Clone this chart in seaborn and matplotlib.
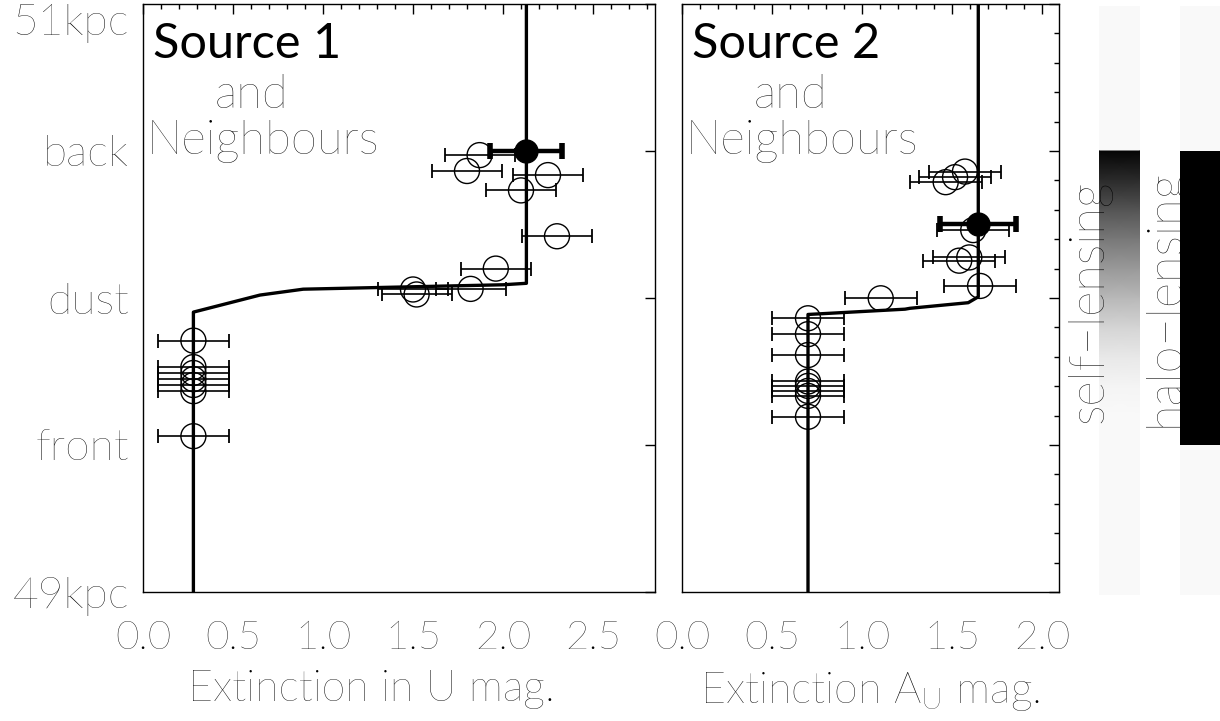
import numpy as np
import pandas as pd
import matplotlib
matplotlib.use("Agg")
import matplotlib.pyplot as plt
from matplotlib.ticker import MultipleLocator, FormatStrFormatter
from matplotlib.colors import LinearSegmentedColormap
import seaborn as sns

# Source 1: main object (filled) and neighbours (open circles)
s1_main_x = [2.13]
s1_main_y = [50.50]
s1_main_err = [0.20]
s1_nb_x = [1.87, 1.80, 2.25, 2.10, 2.30, 1.96, 1.82, 1.50, 1.52,
           0.28, 0.28, 0.28, 0.28, 0.28, 0.28, 0.28]
s1_nb_y = [50.486, 50.432, 50.418, 50.366, 50.21, 50.10, 50.031, 50.029, 50.012,
           49.855, 49.765, 49.745, 49.724, 49.704, 49.683, 49.53]
s1_nb_err = [0.195] * len(s1_nb_x)
s1_model_x = [2.13, 2.13, 2.00, 0.89, 0.65, 0.28, 0.28]
s1_model_y = [51.0, 50.05, 50.045, 50.03, 50.01, 49.952, 49.0]

# Source 2
s2_main_x = [1.646]
s2_main_y = [50.252]
s2_main_err = [0.21]
s2_nb_x = [1.572, 1.517, 1.465, 1.618, 1.596, 1.54, 1.656, 1.104,
           0.70, 0.70, 0.70, 0.70, 0.70, 0.70, 0.70, 0.70]
s2_nb_y = [50.430, 50.411, 50.394, 50.231, 50.138, 50.127, 50.041, 49.999,
           49.931, 49.877, 49.806, 49.716, 49.701, 49.684, 49.667, 49.596]
s2_nb_err = [0.2] * len(s2_nb_x)
s2_model_x = [1.646, 1.646, 1.59, 1.267, 1.239, 0.70, 0.70]
s2_model_y = [51.0, 50.004, 49.984, 49.965, 49.962, 49.944, 49.0]

# depth axis labels
depth_ticks = [49.0, 49.5, 50.0, 50.5, 51.0]
depth_labels = ["49kpc", "front", "dust", "back", "51kpc"]

# lensing strips
sl_depth = [50.5, 50.4, 50.3, 50.2, 50.1, 50.0, 49.9, 49.8, 49.7, 49.6]
sl_gray = [0.02, 0.17, 0.33, 0.47, 0.60, 0.72, 0.83, 0.91, 0.955, 0.976]
halo_range = [49.5, 50.5]

sns.set_theme(style="white")
plt.rcParams["font.family"] = ["Lato", "DejaVu Sans"]
plt.rcParams["font.weight"] = "light"
plt.rcParams["mathtext.fontset"] = "custom"
plt.rcParams["mathtext.rm"] = "Lato:light"
plt.rcParams["axes.edgecolor"] = "black"
plt.rcParams["axes.linewidth"] = 1.0
plt.rcParams["text.color"] = "black"
plt.rcParams["axes.labelcolor"] = "black"
plt.rcParams["xtick.color"] = "black"
plt.rcParams["ytick.color"] = "black"

W, H = 1220, 721
fig = plt.figure(figsize=(W / 100, H / 100), dpi=100)
top_px, bot_px = 4, 592
ax1 = fig.add_axes([143 / W, 1 - bot_px / H, 512 / W, (bot_px - top_px) / H])
ax2 = fig.add_axes([682 / W, 1 - bot_px / H, 377 / W, (bot_px - top_px) / H])
px_per_x = 180.0


def panel(ax, main_x, main_y, main_err, nb_x, nb_y, nb_err, mx, my, title, xlabel, xmax):
    nb = pd.DataFrame({"x": nb_x, "y": nb_y})
    ax.errorbar(nb_x, nb_y, xerr=nb_err, fmt="none", ecolor="black",
                elinewidth=1.2, capsize=4.8, capthick=1.3, zorder=2)
    sns.scatterplot(data=nb, x="x", y="y", ax=ax, marker="o", s=18 ** 2,
                    facecolor="none", edgecolor="black", linewidth=1.0, zorder=3)
    model = pd.DataFrame({"x": mx, "y": my})
    sns.lineplot(data=model, x="x", y="y", ax=ax, sort=False, estimator=None,
                 color="black", linewidth=2.4, zorder=4)
    ax.errorbar(main_x, main_y, xerr=main_err, fmt="o", color="black",
                markersize=16.5, elinewidth=3.2, capsize=5.5, capthick=4.0, zorder=5)

    ax.set_xlim(0, xmax)
    ax.set_ylim(49, 51)
    ax.xaxis.set_major_locator(MultipleLocator(0.5))
    ax.xaxis.set_minor_locator(MultipleLocator(0.1))
    ax.xaxis.set_major_formatter(FormatStrFormatter("%.1f"))
    ax.tick_params(axis="both", which="both", direction="in", top=True, right=True,
                   color="black")
    ax.tick_params(axis="both", which="major", length=7, width=1.0)
    ax.tick_params(axis="both", which="minor", length=3.5, width=1.0)
    ax.tick_params(axis="x", which="major", pad=20, labelsize=29)
    ax.set_xlabel(xlabel, fontsize=31, fontweight="light")
    ax.set_ylabel("")

    ax.text(0.055, 50.815, title, fontsize=35, fontweight="normal", color="black")
    ax.text(0.60, 50.645, "and", fontsize=34, ha="center", fontweight="light")
    ax.text(0.02, 50.49, "Neighbours", fontsize=34, fontweight="light")


panel(ax1, s1_main_x, s1_main_y, s1_main_err, s1_nb_x, s1_nb_y, s1_nb_err,
      s1_model_x, s1_model_y, "Source 1", "Extinction in U mag.", 512 / px_per_x)
panel(ax2, s2_main_x, s2_main_y, s2_main_err, s2_nb_x, s2_nb_y, s2_nb_err,
      s2_model_x, s2_model_y, "Source 2", r"Extinction A$_{\rm U}$ mag.", 377 / px_per_x)

ax1.set_yticks(depth_ticks, labels=depth_labels)
ax1.tick_params(axis="y", labelsize=32, pad=10)
ax1.get_yticklabels()[-1].set_va("top")
ax2.yaxis.set_major_locator(MultipleLocator(0.5))
ax2.yaxis.set_minor_locator(MultipleLocator(0.1))
ax2.set_yticklabels([])
ax1.xaxis.set_label_coords(0.447, -0.132)
ax2.xaxis.set_label_coords(0.50, -0.132)

# lensing strips share the depth scale of the panels
px_per_y = (bot_px - top_px) / 2.0
cb_top, cb_bot = 6, 595
ylim_cb = (49 - (cb_bot - bot_px) / px_per_y, 51 - (cb_top - top_px) / px_per_y)
cb1 = fig.add_axes([1099 / W, 1 - cb_bot / H, 41 / W, (cb_bot - cb_top) / H])
cb2 = fig.add_axes([1180 / W, 1 - cb_bot / H, 40 / W, (cb_bot - cb_top) / H])
cmap = LinearSegmentedColormap.from_list("bw", ["black", "#f9f9f9"])
for cb in (cb1, cb2):
    cb.set_facecolor("#f9f9f9")
    cb.set_xlim(0, 1)
    cb.set_ylim(*ylim_cb)
    cb.set_xticks([])
    cb.set_yticks([])
    for sp in cb.spines.values():
        sp.set_visible(False)

Y = np.array(sl_depth)
C = np.column_stack([sl_gray, sl_gray]) / 0.976
cb1.pcolormesh([0, 1], Y, C, shading="gouraud", cmap=cmap, vmin=0, vmax=1)
cb2.axhspan(halo_range[0], halo_range[1], color="black", lw=0)

fig.text(1089 / W, 1 - 301 / H, "self\u2212lensing", rotation=90, fontsize=35,
         ha="center", va="center", fontweight="light", zorder=0)
fig.text(1165 / W, 1 - 298 / H, "halo\u2212lensing", rotation=90, fontsize=35,
         ha="center", va="center", fontweight="light", zorder=0)

fig.savefig("out.png", dpi=100, facecolor="white")
